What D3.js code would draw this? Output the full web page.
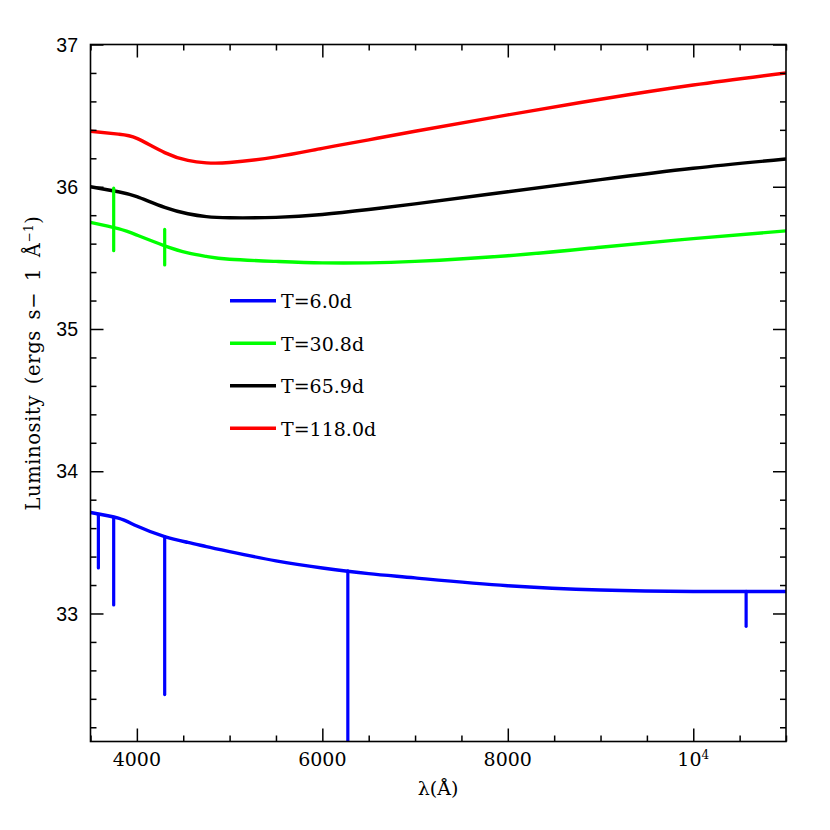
<!DOCTYPE html>
<html>
<head>
<meta charset="utf-8">
<script src="https://cdn.jsdelivr.net/npm/d3@7"></script>
<style>
  body { margin: 0; background: #fff; }
  svg { display: block; }
</style>
</head>
<body>
<div id="chart"></div>
<script>
// Wavelength grid (Angstrom) for the continua
const waves = [3500, 3800, 4000, 4300, 4550, 4750, 5000, 5500, 6000, 6500, 7000, 8000, 9000, 10000, 11000];

// log luminosity, one array per epoch
const lumBlue  = [33.71, 33.67, 33.615, 33.54, 33.50, 33.47, 33.435, 33.37, 33.32, 33.28, 33.25, 33.195, 33.165, 33.155, 33.155];
const lumGreen = [35.75, 35.705, 35.66, 35.585, 35.535, 35.51, 35.49, 35.475, 35.465, 35.465, 35.475, 35.515, 35.575, 35.635, 35.69];
const lumBlack = [36.00, 35.965, 35.93, 35.855, 35.81, 35.79, 35.782, 35.785, 35.805, 35.84, 35.88, 35.965, 36.05, 36.13, 36.195];
const lumRed   = [36.39, 36.37, 36.34, 36.24, 36.185, 36.168, 36.17, 36.21, 36.27, 36.33, 36.39, 36.505, 36.615, 36.715, 36.80];

// spectral lines: wavelength, bottom, top
const blueLines = [
  { w: 3585, lo: 33.32, hi: 33.69 },
  { w: 3750, lo: 33.06, hi: 33.67 },
  { w: 4300, lo: 32.43, hi: 33.54 },
  { w: 6275, lo: 31.80, hi: 33.30 },
  { w: 10570, lo: 32.91, hi: 33.155 }
];
const greenLines = [
  { w: 3750, lo: 35.55, hi: 35.99 },
  { w: 4300, lo: 35.45, hi: 35.70 }
];

const labels = ['T=6.0d', 'T=30.8d', 'T=65.9d', 'T=118.0d'];
const colors = ['#0000ff', '#00ff00', '#000000', '#ff0000'];

const xTicks = [4000, 6000, 8000, 10000];
const yTicks = [33, 34, 35, 36, 37];

const width = 830, height = 830;
const margin = { top: 44.5, right: 44, bottom: 88.5, left: 90.5 };

const svg = d3.select('#chart').append('svg')
  .attr('width', width)
  .attr('height', height);

const x = d3.scaleLinear().domain([3500, 11000]).range([margin.left, width - margin.right]);
const y = d3.scaleLinear().domain([32.1, 37]).range([height - margin.bottom, margin.top]);

svg.append('clipPath').attr('id', 'clip')
  .append('rect')
  .attr('x', margin.left).attr('y', margin.top)
  .attr('width', x.range()[1] - x.range()[0])
  .attr('height', y.range()[0] - y.range()[1]);

const plot = svg.append('g').attr('clip-path', 'url(#clip)');

//Curvas
const line = d3.line()
  .x(function(d) { return x(d[0]); })
  .y(function(d) { return y(d[1]); })
  .curve(d3.curveNatural);

const series = [lumBlue, lumGreen, lumBlack, lumRed];

series.forEach(function(vals, i) {
  plot.append('path')
    .datum(waves.map(function(w, j) { return [w, vals[j]]; }))
    .attr('fill', 'none')
    .attr('stroke', colors[i])
    .attr('stroke-width', 3.4)
    .attr('stroke-linejoin', 'round')
    .attr('d', line);
});

//Lineas espectrales
function drawLines(data, color) {
  plot.selectAll(null)
    .data(data)
    .enter()
    .append('line')
    .attr('x1', function(d) { return x(d.w); })
    .attr('x2', function(d) { return x(d.w); })
    .attr('y1', function(d) { return y(d.hi); })
    .attr('y2', function(d) { return y(d.lo); })
    .attr('stroke', color)
    .attr('stroke-width', 3.2)
    .attr('stroke-linecap', 'round');
}
drawLines(blueLines, colors[0]);
drawLines(greenLines, colors[1]);

//Ejes
const fr = svg.append('g');
function minorRange(a, b, step) { return d3.range(a, b + step / 2, step); }
const xMinor = minorRange(3500, 11000, 500).filter(function(v) { return xTicks.indexOf(v) < 0; });
const yMinor = minorRange(32.2, 37, 0.2).map(function(v) { return +v.toFixed(1); })
  .filter(function(v) { return yTicks.indexOf(v) < 0; });

function addAxis(axisFn, scale, pos, values, size) {
  const g = fr.append('g')
    .attr('transform', pos)
    .call(axisFn(scale).tickValues(values).tickSize(size).tickFormat(''));
  g.select('.domain').remove();
  g.selectAll('line').attr('stroke', '#000').attr('stroke-width', 1.5);
}
const bottomY = y.range()[0], topY = y.range()[1];
const leftX = x.range()[0], rightX = x.range()[1];

addAxis(d3.axisBottom, x, 'translate(0,' + bottomY + ')', xTicks, -13);
addAxis(d3.axisBottom, x, 'translate(0,' + bottomY + ')', xMinor, -6);
addAxis(d3.axisTop, x, 'translate(0,' + topY + ')', xTicks, -13);
addAxis(d3.axisTop, x, 'translate(0,' + topY + ')', xMinor, -6);
addAxis(d3.axisLeft, y, 'translate(' + leftX + ',0)', yTicks, -13);
addAxis(d3.axisLeft, y, 'translate(' + leftX + ',0)', yMinor, -6);
addAxis(d3.axisRight, y, 'translate(' + rightX + ',0)', yTicks, -13);
addAxis(d3.axisRight, y, 'translate(' + rightX + ',0)', yMinor, -6);

fr.append('rect')
  .attr('x', leftX).attr('y', topY)
  .attr('width', rightX - leftX).attr('height', bottomY - topY)
  .attr('fill', 'none').attr('stroke', '#000').attr('stroke-width', 1.6);

// tick labels
svg.selectAll('.ylab')
  .data(yTicks)
  .enter()
  .append('text')
  .attr('x', 78)
  .attr('y', function(d) { return y(d) + 7.2; })
  .attr('text-anchor', 'end')
  .style('font-family', 'Liberation Sans, Arial, sans-serif')
  .style('font-size', '19.5px')
  .text(function(d) { return d; });

const xl = svg.selectAll('.xlab')
  .data(xTicks)
  .enter()
  .append('text')
  .attr('x', function(d) { return x(d); })
  .attr('y', bottomY + 24.5)
  .attr('text-anchor', 'middle')
  .style('font-family', 'DejaVu Serif, serif')
  .style('font-size', '19px');
xl.each(function(d) {
  const t = d3.select(this);
  if (d === 10000) {
    t.append('tspan').text('10');
    t.append('tspan').attr('dy', -7).style('font-size', '12px').text('4');
  } else {
    t.text(d);
  }
});

// axis titles
svg.append('text')
  .attr('x', 438).attr('y', 795)
  .attr('text-anchor', 'middle')
  .style('font-family', 'DejaVu Serif, serif')
  .style('font-size', '19px')
  .text('λ(Å)');

const yt = svg.append('text')
  .attr('transform', 'translate(40,' + 363 + ') rotate(-90)')
  .attr('text-anchor', 'middle')
  .style('font-family', 'DejaVu Serif, serif')
  .style('font-size', '19.5px')
  .style('letter-spacing', '0.6px')
  .style('word-spacing', '4px');
yt.append('tspan').text('Luminosity (ergs s\u2212 1 Å');
yt.append('tspan').attr('dy', -7).style('font-size', '12px').text('\u22121');
yt.append('tspan').attr('dy', 7).text(')');

//Leyenda
const legend = svg.append('g');
const legY = d3.scaleLinear().domain([0, 3]).range([300.7, 428.3]);
labels.forEach(function(lab, i) {
  legend.append('line')
    .attr('x1', 230).attr('x2', 276)
    .attr('y1', legY(i)).attr('y2', legY(i))
    .attr('stroke', colors[i]).attr('stroke-width', 3.4);
  legend.append('text')
    .attr('x', 281).attr('y', legY(i) + 7.4)
    .style('font-family', 'DejaVu Serif, serif')
    .style('font-size', '19px')
    .text(lab);
});
</script>
</body>
</html>
